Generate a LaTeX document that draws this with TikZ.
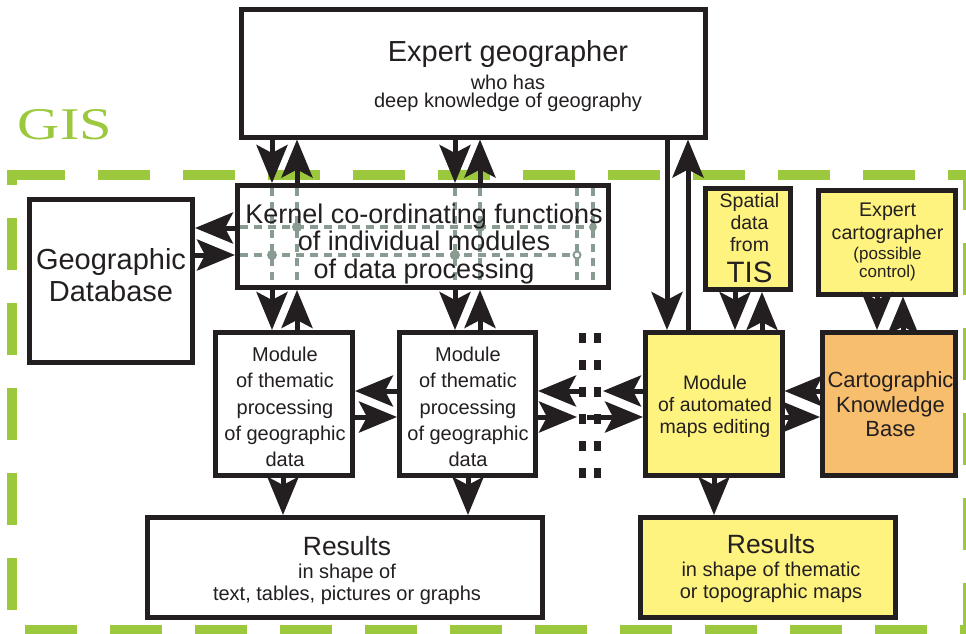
\documentclass[tikz,border=0pt]{standalone}
\usepackage{fontspec}
\setmainfont{Liberation Sans}
\newfontfamily\gisfont{Liberation Serif}
\usetikzlibrary{arrows.meta}

\definecolor{ink}{RGB}{35,31,32}
\definecolor{gisgreen}{RGB}{155,200,60}
\definecolor{gridgrey}{RGB}{136,156,146}
\definecolor{mapyellow}{RGB}{255,243,128}
\definecolor{kborange}{RGB}{247,190,110}

% font size and line pitch; lines are never pushed apart by \lineskip
\newcommand{\tf}[2]{\fontsize{#1}{#2}\selectfont\lineskiplimit=-100pt\relax}

\begin{document}
\begin{tikzpicture}[x=1pt, y=-1pt,
  box/.style={draw=ink, line width=5pt, fill=white, inner sep=0pt},
  ybox/.style={box, fill=mapyellow},
  lbl/.style={text=ink, align=center, inner sep=0pt},
  flow/.style={draw=ink, line width=5pt,
    -{Stealth[length=38pt, width=31pt, inset=8pt]}},
  gisline/.style={draw=gisgreen, line width=10pt, dash pattern=on 52pt off 33pt},
  gridline/.style={draw=gridgrey, line width=3.5pt, dash pattern=on 8pt off 6pt},
  griddot/.style={fill=gridgrey},
  sepdash/.style={draw=ink, line width=7pt, dash pattern=on 10pt off 17pt},
]
\useasboundingbox (0,0) rectangle (966,634);

% ---------- GIS frame ----------
\draw[gisline, dash phase=79pt] (7,175) -- (973,175);
\draw[gisline, dash phase=37pt] (12,170) -- (12,640);
\draw[gisline, dash phase=67pt] (7,630) -- (973,630);
\draw[gisline, dash phase=12pt] (968,170) -- (968,640);
\node[inner sep=0pt, text=gisgreen] (gis) at (65,125) {\resizebox{94pt}{30pt}{\gisfont GIS}};

% ---------- boxes ----------
\node[box, minimum width=464pt, minimum height=127pt] (expert) at (473,73.5) {};
\node[box, minimum width=371pt, minimum height=102pt] (kernel) at (423,236.5) {};
\node[box, minimum width=163pt, minimum height=163pt] (geodb) at (111,281) {};
\node[box, minimum width=137pt, minimum height=143pt] (mod1) at (284,404) {};
\node[box, minimum width=136pt, minimum height=143pt] (mod2) at (467.5,404) {};
\node[ybox, minimum width=136.5pt, minimum height=143pt] (auto) at (713.75,404) {};
\node[ybox, minimum width=85.5pt, minimum height=101pt] (tis) at (747.75,239) {};
\node[ybox, minimum width=136.5pt, minimum height=103.5pt] (cart) at (886.75,242.25) {};
\node[box, fill=kborange, minimum width=133pt, minimum height=143pt] (kb) at (889,404) {};
\node[box, minimum width=395pt, minimum height=99.5pt] (res1) at (345,567.25) {};
\node[ybox, minimum width=255pt, minimum height=100pt] (res2) at (768,567.5) {};

% ---------- data paths through the kernel ----------
\foreach \gx in {272,297,455,480,577,593}
  \draw[gridline] (\gx,188) -- (\gx,285);
\draw[gridline] (240,227) -- (593,227);
\draw[gridline] (240,255) -- (577,255);
\fill[griddot] (297,227) circle (5pt) (480,227) circle (5pt)
               (272,255) circle (5pt) (455,255) circle (5pt)
               (593,227) circle (4pt);
\filldraw[draw=gridgrey, fill=white, line width=2pt] (577,255) circle (3.5pt);

% ---------- texts ----------
\node[lbl, font=\tf{20}{18}] (expertLbl) at (508,76)
  {{\tf{29}{18}Expert geographer}\\[9.6pt]who has\\deep knowledge of geography};
\node[lbl, font=\tf{27}{27.5}] (kernelLbl) at (424,243.7)
  {Kernel co-ordinating functions\\of individual modules\\of data processing};
\node[lbl, font=\tf{29}{31.7}] (geodbLbl) at (111,275.3) {Geographic\\Database};
\node[lbl, font=\tf{20}{26.2}] (mod1Lbl) at (285,407)
  {Module\\of thematic\\processing\\of geographic\\data};
\node[lbl, font=\tf{20}{26.2}] (mod2Lbl) at (468,407)
  {Module\\of thematic\\processing\\of geographic\\data};
\node[lbl, font=\tf{19.5}{22}] (autoLbl) at (715,406)
  {Module\\of automated\\maps editing};
\node[lbl, font=\tf{19.5}{22}] (tisLbl) at (749.5,238)
  {Spatial\\data\\from\\[9.6pt]{\tf{29.5}{22}TIS}};
\node[lbl, font=\tf{19.7}{23}] (cartLbl) at (887.5,242.2)
  {Expert\\cartographer\\[-3pt]{\tf{17}{23}(possible}\\[-4.7pt]{\tf{17}{23}control)}};
\node[lbl, font=\tf{22}{24.5}] (kbLbl) at (890.5,404.5)
  {Cartographic\\Knowledge\\Base};
\node[lbl, font=\tf{20}{22}] (res1Lbl) at (347,570.3)
  {{\tf{26.4}{22}Results}\\[1pt]in shape of\\text, tables, pictures or graphs};
\node[lbl, font=\tf{20}{22}] (res2Lbl) at (771,568.75)
  {{\tf{26.4}{22}Results}\\[1.4pt]in shape of thematic\\or topographic maps};

% ---------- separator between module groups ----------
\coordinate (sepTopL) at (582,333);
\coordinate (sepBotL) at (582,480);
\coordinate (sepTopR) at (597,333);
\coordinate (sepBotR) at (597,480);
\draw[sepdash] (sepTopL) -- (sepBotL);
\draw[sepdash] (sepTopR) -- (sepBotR);

% ---------- connector columns and rows ----------
\coordinate (cA) at (272,0);
\coordinate (cB) at (297,0);
\coordinate (cC) at (455,0);
\coordinate (cD) at (480,0);
\coordinate (cE) at (667,0);
\coordinate (cF) at (688,0);
\coordinate (cG) at (735,0);
\coordinate (cH) at (762,0);
\coordinate (cI) at (877,0);
\coordinate (cJ) at (903,0);
\coordinate (cK) at (283,0);
\coordinate (cL) at (468,0);
\coordinate (cM) at (714,0);
\coordinate (rA) at (0,228);
\coordinate (rB) at (0,255);
\coordinate (rC) at (0,391);
\coordinate (rD) at (0,417);
\coordinate (sepA) at (585,391);
\coordinate (sepB) at (577,417);
\coordinate (sepC) at (603,391);
\coordinate (sepD) at (587,417);

% ---------- connectors ----------
% expert geographer <-> kernel
\draw[flow] (expert.south -| cA) -- (kernel.north -| cA);
\draw[flow] (kernel.north -| cB) -- (expert.south -| cB);
\draw[flow] (expert.south -| cC) -- (kernel.north -| cC);
\draw[flow] (kernel.north -| cD) -- (expert.south -| cD);
% kernel <-> thematic modules
\draw[flow] (kernel.south -| cA) -- (mod1.north -| cA);
\draw[flow] (mod1.north -| cB) -- (kernel.south -| cB);
\draw[flow] (kernel.south -| cC) -- (mod2.north -| cC);
\draw[flow] (mod2.north -| cD) -- (kernel.south -| cD);
% kernel <-> geographic database
\draw[flow] (kernel.west |- rA) -- (geodb.east |- rA);
\draw[flow] (geodb.east |- rB) -- (kernel.west |- rB);
% module <-> module
\draw[flow] (mod2.west |- rC) -- (mod1.east |- rC);
\draw[flow] (mod1.east |- rD) -- (mod2.west |- rD);
\draw[flow] (sepA) -- (mod2.east |- sepA);
\draw[flow] (mod2.east |- sepB) -- (sepB);
\draw[flow] (auto.west |- sepC) -- (sepC);
\draw[flow] (sepD) -- (auto.west |- sepD);
% automated editing links
\draw[flow] (expert.south -| cE) -- (auto.north -| cE);
\draw[flow] (auto.north -| cF) -- (expert.south -| cF);
\draw[flow] (tis.south -| cG) -- (auto.north -| cG);
\draw[flow] (auto.north -| cH) -- (tis.south -| cH);
\draw[flow] (cart.south -| cI) -- (kb.north -| cI);
\draw[flow] (kb.north -| cJ) -- (cart.south -| cJ);
\draw[flow] (kb.west |- rC) -- (auto.east |- rC);
\draw[flow] (auto.east |- rD) -- (kb.west |- rD);
% results
\draw[flow] (mod1.south -| cK) -- (res1.north -| cK);
\draw[flow] (mod2.south -| cL) -- (res1.north -| cL);
\draw[flow] (auto.south -| cM) -- (res2.north -| cM);
\end{tikzpicture}
\end{document}
